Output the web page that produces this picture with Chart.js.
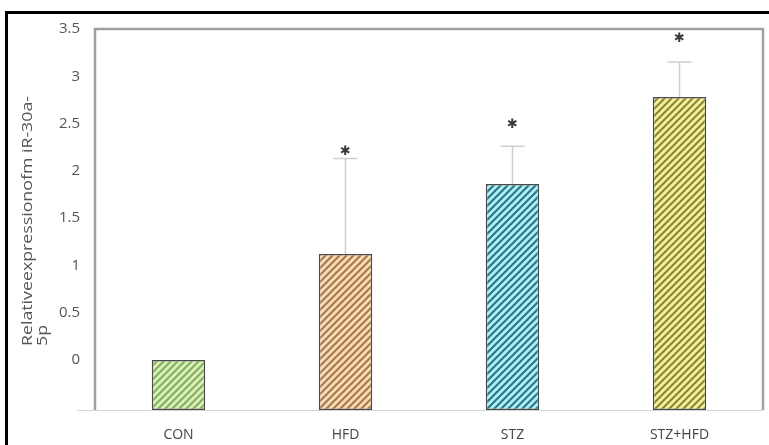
<!DOCTYPE html>
<html>
<head>
<meta charset="utf-8">
<script src="https://cdn.jsdelivr.net/npm/chart.js@4.4.1/dist/chart.umd.min.js"></script>
<style>
html,body{margin:0;padding:0;background:#fff;}
#wrap{width:769px;height:445px;position:relative;}
</style>
</head>
<body>
<div id="wrap"><canvas id="c" width="769" height="445"></canvas></div>
<script>
const categories = ['CON', 'HFD', 'STZ', 'STZ+HFD'];
const meanValues = [0.0, 1.12, 1.86, 2.78];
const errorValues = [0, 1.01, 0.40, 0.37];
const starHeights = [null, 2.20, 2.49, 3.40];
const tickValues = [0, 0.5, 1, 1.5, 2, 2.5, 3, 3.5];
const axisMin = -0.53;
const axisMax = 3.5;
const yTitleLines = ['Relativeexpressionofm iR-30a-', '5p'];

const fillColors = ['#d9f0b8', '#f9dcb4', '#aef0fa', '#f8f096'];
const stripeColors = ['#86b060', '#a87a50', '#2f7888', '#8a8840'];

function makePattern(bg, fg) {
  const s = 7;
  const c = document.createElement('canvas');
  c.width = s; c.height = s;
  const x = c.getContext('2d');
  x.fillStyle = bg; x.fillRect(0, 0, s, s);
  x.strokeStyle = fg; x.lineWidth = 2.2;
  x.beginPath();
  x.moveTo(-1, s + 1); x.lineTo(s + 1, -1);
  x.moveTo(-1, 1); x.lineTo(1, -1);
  x.moveTo(s - 1, s + 1); x.lineTo(s + 1, s - 1);
  x.stroke();
  return x.createPattern(c, 'repeat');
}
const patterns = fillColors.map((c, i) => makePattern(c, stripeColors[i]));

const decor = {
  id: 'decor',
  afterDatasetsDraw(chart) {
    const ctx = chart.ctx;
    const xs = chart.scales.x, ys = chart.scales.y;
    const a = chart.chartArea;
    ctx.save();
    // error bars
    ctx.strokeStyle = '#cfcfcf';
    ctx.lineWidth = 1.5;
    meanValues.forEach((v, i) => {
      if (!errorValues[i]) return;
      const cx = xs.getPixelForValue(i);
      const y0 = ys.getPixelForValue(v);
      const y1 = ys.getPixelForValue(v + errorValues[i]);
      ctx.beginPath();
      ctx.moveTo(cx, y0); ctx.lineTo(cx, y1);
      ctx.moveTo(cx - 12, y1); ctx.lineTo(cx + 12, y1);
      ctx.stroke();
    });
    // stars
    ctx.fillStyle = '#3a3a3a';
    ctx.font = '13px "DejaVu Sans"';
    ctx.textAlign = 'center';
    ctx.textBaseline = 'middle';
    starHeights.forEach((h, i) => {
      if (h == null) return;
      ctx.fillText('\u2731', xs.getPixelForValue(i), ys.getPixelForValue(h));
    });
    // frame
    ctx.strokeStyle = '#a0a0a0';
    ctx.lineWidth = 2.5;
    ctx.beginPath();
    ctx.moveTo(a.left, a.bottom);
    ctx.lineTo(a.left, a.top);
    ctx.lineTo(a.right, a.top);
    ctx.lineTo(a.right, a.bottom);
    ctx.stroke();
    ctx.strokeStyle = '#d4d4d4';
    ctx.lineWidth = 1.2;
    ctx.beginPath();
    ctx.moveTo(a.left - 18, a.bottom + 0.5);
    ctx.lineTo(a.right, a.bottom + 0.5);
    ctx.stroke();
    // y title
    ctx.fillStyle = '#555';
    ctx.font = '14px "Open Sans"';
    const w = ctx.measureText(yTitleLines[0]).width;
    const sx = 250 / w;
    ctx.textAlign = 'left';
    ctx.textBaseline = 'middle';
    ctx.translate(28, 346);
    ctx.rotate(-Math.PI / 2);
    ctx.scale(sx, 1);
    ctx.fillText(yTitleLines[0], 0, 0);
    ctx.fillText(yTitleLines[1], 0, 15);
    ctx.restore();
    // outer black border
    ctx.save();
    ctx.strokeStyle = '#000';
    ctx.lineWidth = 3;
    ctx.beginPath();
    ctx.moveTo(6.5, 445);
    ctx.lineTo(6.5, 12.5);
    ctx.lineTo(769, 12.5);
    ctx.stroke();
    ctx.restore();
  }
};

new Chart(document.getElementById('c'), {
  type: 'bar',
  data: {
    labels: categories,
    datasets: [{
      data: meanValues,
      base: axisMin,
      backgroundColor: patterns,
      borderColor: '#4a4a4a',
      borderWidth: 1.5,
      borderSkipped: false,
      barPercentage: 0.32,
      categoryPercentage: 1.0
    }]
  },
  options: {
    responsive: false,
    animation: false,
    devicePixelRatio: 1,
    layout: { padding: { left: 0, right: 6, top: 29, bottom: 0 } },
    plugins: { legend: { display: false }, tooltip: { enabled: false } },
    scales: {
      x: {
        grid: { display: false, drawTicks: false },
        border: { display: false },
        ticks: { color: '#444', font: { family: 'Open Sans', size: 14 }, padding: 17 },
        afterFit(s) { s.height = 35; }
      },
      y: {
        min: axisMin,
        max: axisMax,
        grid: { display: false, drawTicks: false },
        border: { display: false },
        afterBuildTicks(s) { s.ticks = tickValues.map(v => ({ value: v })); },
        ticks: {
          color: '#555',
          font: { family: 'Open Sans', size: 15 },
          padding: 15,
          callback: v => String(v)
        },
        afterFit(s) { s.width = 95; }
      }
    }
  },
  plugins: [decor]
});
</script>
</body>
</html>
